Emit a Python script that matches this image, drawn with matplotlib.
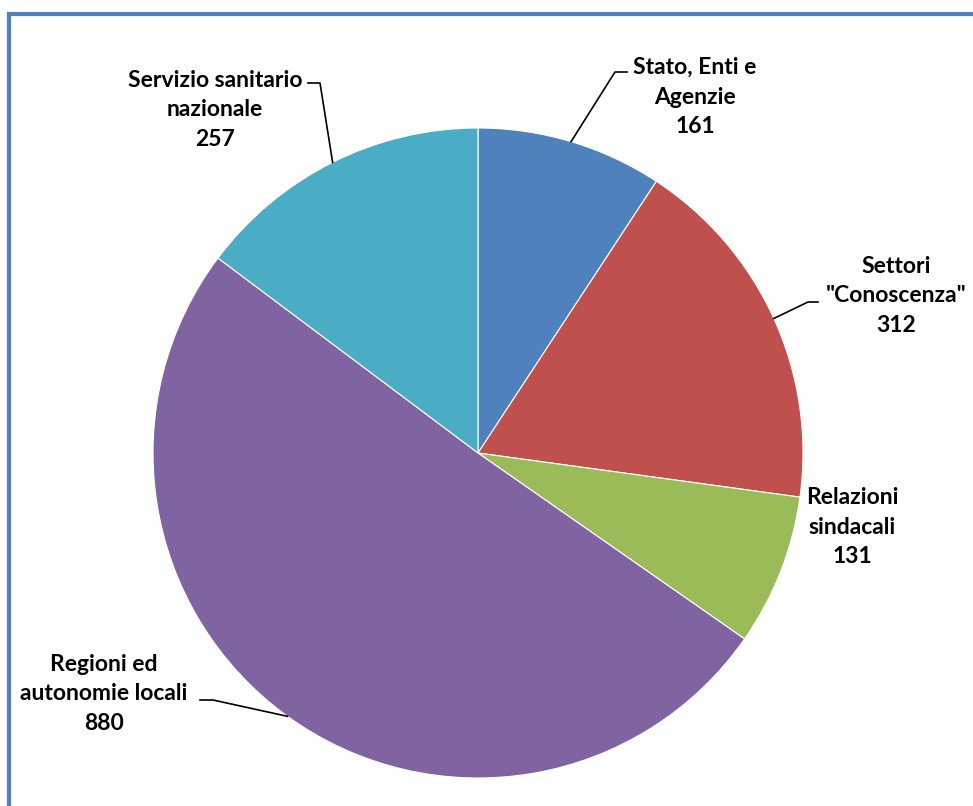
import numpy as np
import matplotlib
matplotlib.use("Agg")
from matplotlib import pyplot as plt
from matplotlib.patches import Rectangle

labels = ["Stato, Enti e\nAgenzie", "Settori\n\"Conoscenza\"", "Relazioni\nsindacali",
          "Regioni ed\nautonomie locali", "Servizio sanitario\nnazionale"]
values = np.array([161, 312, 131, 880, 257])
colors = ["#4f81bd", "#c0504d", "#9bbb59", "#8064a2", "#4bacc6"]

W, H = 973, 806
cx, cy, r = 478, H - 453, 325

# label centre (px) and leader elbow points (px, image coords), None = no leader
label_pos = [(695, 97), (896, 296), (852, 527), (104, 694), (215, 110)]
elbows = [[(615, 72), (627, 72)],
          [(808, 302), (818, 302)],
          None,
          [(213, 700), (200, 700)],
          [(320, 83), (308, 83)]]

fig = plt.figure(figsize=(W / 100, H / 100), dpi=100)
ax = fig.add_axes([0, 0, 1, 1])

ax.pie(values, colors=colors, startangle=90, counterclock=False,
       center=(cx, cy), radius=r, frame=True,
       wedgeprops=dict(edgecolor="white", linewidth=0.8))
ax.set_xlim(0, W)
ax.set_ylim(0, H)
ax.set_aspect("equal")
ax.axis("off")

# chart border (only left and top visible)
ax.add_patch(Rectangle((9, -50), W + 100, H - 14 + 50, fill=False,
                       edgecolor="#4f81bd", linewidth=3, clip_on=False))

total = values.sum()
cum = np.cumsum(values) - values / 2
for i, (lab, v) in enumerate(zip(labels, values)):
    ang = np.deg2rad(360 * cum[i] / total)
    ax_x = cx + r * np.sin(ang)
    ax_y = cy + r * np.cos(ang)
    tx, ty = label_pos[i]
    ax.text(tx, H - ty, "{}\n{}".format(lab, v), ha="center", va="center",
            fontsize=16.5, fontweight="bold", family="Lato", linespacing=1.5)
    if elbows[i] is not None:
        xs = [ax_x] + [p[0] for p in elbows[i]]
        ys = [ax_y] + [H - p[1] for p in elbows[i]]
        ax.plot(xs, ys, color="black", linewidth=1.2)

plt.savefig("out.png", dpi=100)
